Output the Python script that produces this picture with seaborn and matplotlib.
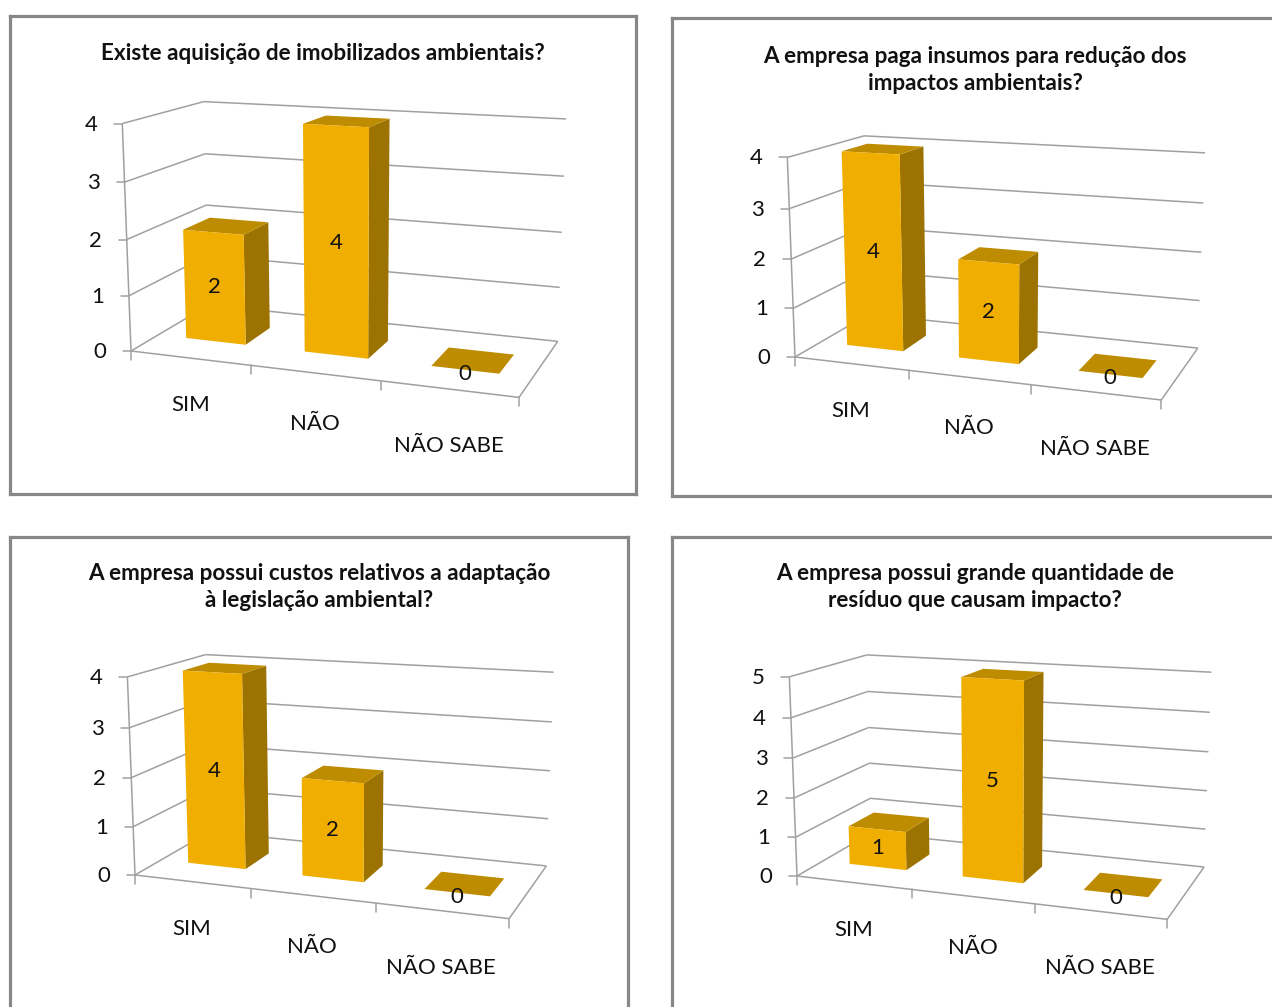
import numpy as np
import pandas as pd
import seaborn as sns
import matplotlib
matplotlib.use("Agg")
import matplotlib.pyplot as plt
import matplotlib.transforms as mtransforms
from matplotlib.patches import Polygon

# ---------------- data ----------------
categories = ["SIM", "NÃO", "NÃO SABE"]
titles = [
    "Existe aquisição de imobilizados ambientais?",
    "A empresa paga insumos para redução dos\nimpactos ambientais?",
    "A empresa possui custos relativos a adaptação\nà legislação ambiental?",
    "A empresa possui grande quantidade de\nresíduo que causam impacto?",
]
values_p1 = [2, 4, 0]
values_p2 = [4, 2, 0]
values_p3 = [4, 2, 0]
values_p4 = [1, 5, 0]
axis_max = [4, 4, 4, 5]
all_values = [values_p1, values_p2, values_p3, values_p4]

# ---------------- style / layout ----------------
W, Hfig = 1272, 1007
FRONT = "#F0AE00"
TOP = "#BE8C00"
SIDE = "#9C7300"
GRID = "#A0A0A0"
FRAME = "#878787"
FONT = "Lato"

# frame rectangles (left, top, right, bottom) in pixels, y down
frames = [(10, 16, 636, 494), (672, 18, 1290, 496),
          (10, 537, 628, 1030), (672, 537, 1290, 1030)]
# front-left-bottom corner anchor, scale, wall height
anchors = [(131, 351), (795, 357), (135, 875), (797, 876)]
scales = [132.6, 125.0, 127.6, 126.3]
heights = [1.74, 1.62, 1.575, 1.60]
title_y = [54, 70, 587, 587]
label_drop = [47, 51, 57]

YAW = np.radians(20)
PITCH = np.radians(13)
CAM = 10.0
DEPTH = 1.35
BAR_D0, BAR_D1 = 0.44, 0.91
BAR_W = 0.51


def make_proj(anchor, s, Hw, vmax):
    ct, st = np.cos(YAW), np.sin(YAW)
    cp, sp = np.cos(PITCH), np.sin(PITCH)

    def raw(c, v, d):
        X = c - 1.0
        Y = v / vmax * Hw - Hw / 2
        Z = d - DEPTH / 2
        x1 = X * ct + Z * st
        z1 = -X * st + Z * ct
        y2 = Y * cp + z1 * sp
        z2 = -Y * sp + z1 * cp
        k = CAM / (CAM + z2)
        return x1 * k * s, y2 * k * s

    a0x, a0y = raw(-0.5, 0.0, 0.0)

    def proj(c, v, d):
        c = np.asarray(c, float)
        v = np.asarray(v, float)
        d = np.asarray(d, float)
        x, y = raw(c, v, d)
        return anchor[0] + x - a0x, anchor[1] - (y - a0y)

    return proj


class PerspTransform(mtransforms.Transform):
    input_dims = 2
    output_dims = 2
    is_separable = False
    has_inverse = False

    def __init__(self, fn, depth):
        super().__init__()
        self._fn = fn
        self._depth = depth

    def transform_non_affine(self, values):
        v = np.asarray(values, float).reshape(-1, 2)
        x, y = self._fn(v[:, 0], v[:, 1], np.full(len(v), self._depth))
        return np.column_stack([x, y])


sns.set_theme(style="white")
plt.rcParams["font.family"] = [FONT, "DejaVu Sans"]
LBL = 16

fig = plt.figure(figsize=(W / 100, Hfig / 100), dpi=100)

for i in range(4):
    L, T, R, B = frames[i]
    ax = fig.add_axes([L / W, 1 - B / Hfig, (R - L) / W, (B - T) / Hfig])
    vmax = axis_max[i]
    proj = make_proj(anchors[i], scales[i], heights[i], vmax)
    df = pd.DataFrame({"cat": categories, "val": all_values[i]})

    sns.barplot(data=df, x="cat", y="val", ax=ax, color=FRONT, saturation=1,
                width=BAR_W, linewidth=0, zorder=3)

    ax.set_xlim(L, R)
    ax.set_ylim(B, T)
    ax.set_xticks([])
    ax.set_yticks([])
    ax.set_xlabel("")
    ax.set_ylabel("")
    for sp_ in ax.spines.values():
        sp_.set_visible(True)
        sp_.set_color(FRAME)
        sp_.set_linewidth(2.3)

    def line(p, q):
        x, y = proj([p[0], q[0]], [p[1], q[1]], [p[2], q[2]])
        ax.plot(x, y, color=GRID, lw=1.1, zorder=1, solid_capstyle="butt")

    # walls / gridlines
    for t in range(vmax + 1):
        line((-0.5, t, DEPTH), (2.5, t, DEPTH))
        line((-0.5, t, 0), (-0.5, t, DEPTH))
        x0, y0 = proj(-0.5, t, 0)
        ax.plot([x0, x0 - 8], [y0, y0], color=GRID, lw=1.1, zorder=1)
        ax.text(x0 - 25, y0 + 1, str(t), ha="right", va="center",
                fontsize=LBL, color="#111111", family=[FONT, "DejaVu Sans"])
    line((-0.5, 0, 0), (-0.5, vmax, 0))
    line((-0.5, 0, 0), (2.5, 0, 0))
    line((2.5, 0, 0), (2.5, 0, DEPTH))
    for c in [-0.5, 0.5, 1.5, 2.5]:
        x0, y0 = proj(c, 0, 0)
        ax.plot([x0, x0], [y0, y0 + 9], color=GRID, lw=1.1, zorder=1)
    for k, name in enumerate(categories):
        x0, y0 = proj(k, 0, 0)
        ax.text(x0, y0 + label_drop[k], name, ha="center", va="center",
                fontsize=LBL, color="#111111", family=[FONT, "DejaVu Sans"])

    # 3D bars built from seaborn's bar patches
    for p in list(ax.patches):
        bx, bw, bh = p.get_x(), p.get_width(), p.get_height()
        p.set_transform(PerspTransform(proj, BAR_D0) + ax.transData)
        p.set_zorder(3)
        xs, ys = proj([bx + bw, bx + bw, bx + bw, bx + bw], [0, bh, bh, 0],
                      [BAR_D0, BAR_D0, BAR_D1, BAR_D1])
        ax.add_patch(Polygon(np.column_stack([xs, ys]), closed=True,
                             facecolor=SIDE, edgecolor="none", zorder=2.8))
        xs, ys = proj([bx, bx + bw, bx + bw, bx], [bh, bh, bh, bh],
                      [BAR_D0, BAR_D0, BAR_D1, BAR_D1])
        ax.add_patch(Polygon(np.column_stack([xs, ys]), closed=True,
                             facecolor=TOP, edgecolor="none", zorder=2.9))
        cx, cy = proj(bx + bw / 2, bh / 2, BAR_D0)
        ax.text(cx, cy + (4 if bh == 0 else 0), f"{bh:g}", ha="center", va="center",
                fontsize=LBL, color="#111111", zorder=5,
                family=[FONT, "DejaVu Sans"])

    ax.text((L + min(R, 1278)) / 2, title_y[i], titles[i], ha="center", va="center",
            fontsize=16.2, fontweight="bold", color="#111111", linespacing=1.4,
            family=[FONT, "DejaVu Sans"])

fig.savefig("out.png", dpi=100)
